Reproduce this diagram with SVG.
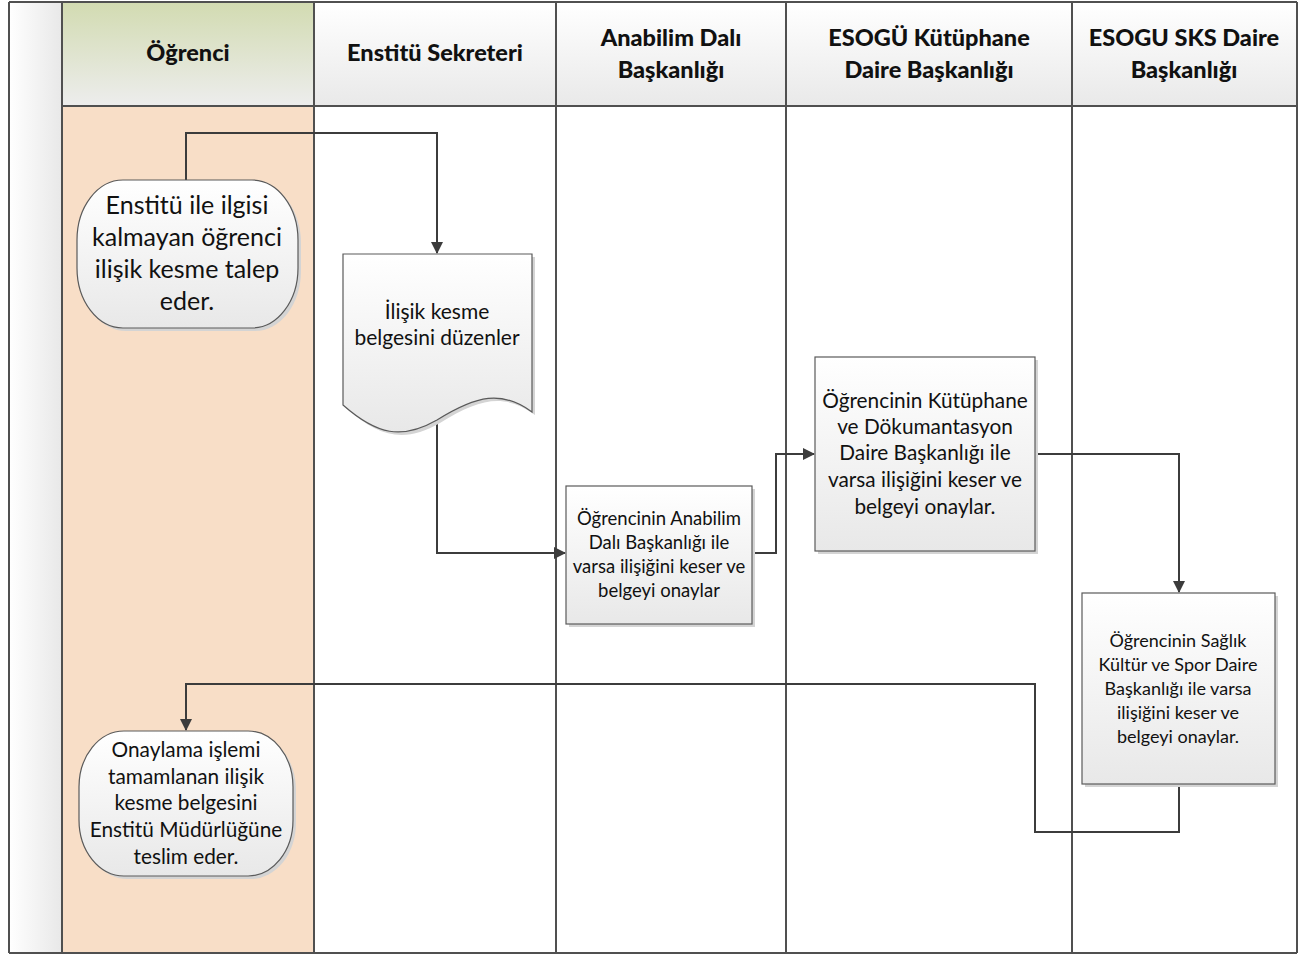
<svg xmlns="http://www.w3.org/2000/svg" width="1308" height="955" viewBox="0 0 1308 955">
  <defs>
    <linearGradient id="gHeadGreen" x1="0" y1="0" x2="0" y2="1">
      <stop offset="0" stop-color="#d2dbb1"/>
      <stop offset="1" stop-color="#ededed"/>
    </linearGradient>
    <linearGradient id="gHead" x1="0" y1="0" x2="0" y2="1">
      <stop offset="0" stop-color="#ffffff"/>
      <stop offset="1" stop-color="#e9e9e9"/>
    </linearGradient>
    <linearGradient id="gStrip" x1="0" y1="0" x2="1" y2="0">
      <stop offset="0" stop-color="#ffffff"/>
      <stop offset="1" stop-color="#e8e8e8"/>
    </linearGradient>
    <linearGradient id="gShape" x1="0" y1="0" x2="0" y2="1">
      <stop offset="0" stop-color="#ffffff"/>
      <stop offset="1" stop-color="#e8e8e8"/>
    </linearGradient>
    <marker id="arrow" viewBox="0 0 12 12" refX="11" refY="6" markerWidth="12" markerHeight="12" markerUnits="userSpaceOnUse" orient="auto">
      <path d="M0,0 L12,6 L0,12 Z" fill="#3c3c3c"/>
    </marker>
  </defs>
  <style>
    .lane { stroke: #505050; stroke-width: 2; }
    .shape { fill: url(#gShape); stroke: #5a5a5a; stroke-width: 1.2; }
    .shadow { fill: #d4d4d4; }
    .hdr { font-family: Lato, "Open Sans", sans-serif; font-weight: 900; font-size: 23.5px; fill: #111; text-anchor: middle; }
    .txt { font-family: Lato, "Open Sans", sans-serif; fill: #111; text-anchor: middle; }
    .conn { fill: none; stroke: #3c3c3c; stroke-width: 2; }
  </style>

  <!-- pool background -->
  <g id="pool">
    <rect x="9" y="2" width="53" height="951" fill="url(#gStrip)"/>
    <rect x="62" y="2" width="252" height="104" fill="url(#gHeadGreen)"/>
    <rect x="314" y="2" width="983" height="104" fill="url(#gHead)"/>
    <rect x="62" y="106" width="252" height="847" fill="#f8dec7"/>
    <rect x="314" y="106" width="983" height="847" fill="#ffffff"/>
    <line class="lane" x1="9" y1="2" x2="1297" y2="2"/>
    <line class="lane" x1="9" y1="953" x2="1297" y2="953"/>
    <line class="lane" x1="9" y1="2" x2="9" y2="953"/>
    <line class="lane" x1="62" y1="2" x2="62" y2="953"/>
    <line class="lane" x1="314" y1="2" x2="314" y2="953"/>
    <line class="lane" x1="556" y1="2" x2="556" y2="953"/>
    <line class="lane" x1="786" y1="2" x2="786" y2="953"/>
    <line class="lane" x1="1072" y1="2" x2="1072" y2="953"/>
    <line class="lane" x1="1297" y1="2" x2="1297" y2="953"/>
    <line class="lane" x1="62" y1="106" x2="1297" y2="106"/>
  </g>

  <!-- lane headers -->
  <g id="headers">
    <text class="hdr" x="188" y="61">Öğrenci</text>
    <text class="hdr" x="435" y="61">Enstitü Sekreteri</text>
    <text class="hdr" x="671" y="46">Anabilim Dalı</text>
    <text class="hdr" x="671" y="78">Başkanlığı</text>
    <text class="hdr" x="929" y="46">ESOGÜ Kütüphane</text>
    <text class="hdr" x="929" y="78">Daire Başkanlığı</text>
    <text class="hdr" x="1184" y="46">ESOGU SKS Daire</text>
    <text class="hdr" x="1184" y="78">Başkanlığı</text>
  </g>

  <!-- connectors -->
  <g id="connectors">
    <path class="conn" d="M186,180 V133 H437 V253" marker-end="url(#arrow)"/>
    <path class="conn" d="M437,415 V553 H565" marker-end="url(#arrow)"/>
    <path class="conn" d="M752,553 H776 V454 H814" marker-end="url(#arrow)"/>
    <path class="conn" d="M1035,454 H1179 V592" marker-end="url(#arrow)"/>
    <path class="conn" d="M1179,784 V832 H1035 V684 H186 V730" marker-end="url(#arrow)"/>
  </g>

  <!-- start: request -->
  <g id="node-request">
    <rect class="shadow" x="80" y="183" width="221" height="148" rx="46" ry="60"/>
    <rect class="shape" x="77" y="180" width="221" height="148" rx="46" ry="60"/>
    <text class="txt" font-size="25" x="187" y="214">Enstitü ile ilgisi</text>
    <text class="txt" font-size="25" x="187" y="246">kalmayan öğrenci</text>
    <text class="txt" font-size="25" x="187" y="278">ilişik kesme talep</text>
    <text class="txt" font-size="25" x="187" y="310">eder.</text>
  </g>

  <!-- document: prepare form -->
  <g id="node-document">
    <path class="shadow" d="M346,257 H535 V415 C505,393 480,398 440,423 C405,443 380,438 346,408 Z"/>
    <path class="shape" d="M343,254 H532 V412 C502,390 477,395 437,420 C402,440 377,435 343,405 Z"/>
    <text class="txt" font-size="21" x="437" y="319">İlişik kesme</text>
    <text class="txt" font-size="21" x="437" y="345">belgesini düzenler</text>
  </g>

  <!-- process: department approval -->
  <g id="node-department">
    <rect class="shadow" x="569" y="489" width="186" height="138"/>
    <rect class="shape" x="566" y="486" width="186" height="138"/>
    <text class="txt" font-size="18.5" x="659" y="525">Öğrencinin Anabilim</text>
    <text class="txt" font-size="18.5" x="659" y="549">Dalı Başkanlığı ile</text>
    <text class="txt" font-size="18.5" x="659" y="573">varsa ilişiğini keser ve</text>
    <text class="txt" font-size="18.5" x="659" y="597">belgeyi onaylar</text>
  </g>

  <!-- process: library approval -->
  <g id="node-library">
    <rect class="shadow" x="818" y="360" width="220" height="194"/>
    <rect class="shape" x="815" y="357" width="220" height="194"/>
    <text class="txt" font-size="20.8" x="925" y="408">Öğrencinin Kütüphane</text>
    <text class="txt" font-size="20.8" x="925" y="434">ve Dökumantasyon</text>
    <text class="txt" font-size="20.8" x="925" y="460">Daire Başkanlığı ile</text>
    <text class="txt" font-size="20.8" x="925" y="487">varsa ilişiğini keser ve</text>
    <text class="txt" font-size="20.8" x="925" y="514">belgeyi onaylar.</text>
  </g>

  <!-- process: SKS approval -->
  <g id="node-sks">
    <rect class="shadow" x="1085" y="596" width="193" height="191"/>
    <rect class="shape" x="1082" y="593" width="193" height="191"/>
    <text class="txt" font-size="18" x="1178" y="647">Öğrencinin Sağlık</text>
    <text class="txt" font-size="18" x="1178" y="671">Kültür ve Spor Daire</text>
    <text class="txt" font-size="18" x="1178" y="695">Başkanlığı ile varsa</text>
    <text class="txt" font-size="18" x="1178" y="719">ilişiğini keser ve</text>
    <text class="txt" font-size="18" x="1178" y="743">belgeyi onaylar.</text>
  </g>

  <!-- end: hand over -->
  <g id="node-handover">
    <rect class="shadow" x="82" y="734" width="214" height="145" rx="45" ry="56"/>
    <rect class="shape" x="79" y="731" width="214" height="145" rx="45" ry="56"/>
    <text class="txt" font-size="20.8" x="186" y="757">Onaylama işlemi</text>
    <text class="txt" font-size="20.8" x="186" y="784">tamamlanan ilişik</text>
    <text class="txt" font-size="20.8" x="186" y="810">kesme belgesini</text>
    <text class="txt" font-size="20.8" x="186" y="837">Enstitü Müdürlüğüne</text>
    <text class="txt" font-size="20.8" x="186" y="864">teslim eder.</text>
  </g>
</svg>
